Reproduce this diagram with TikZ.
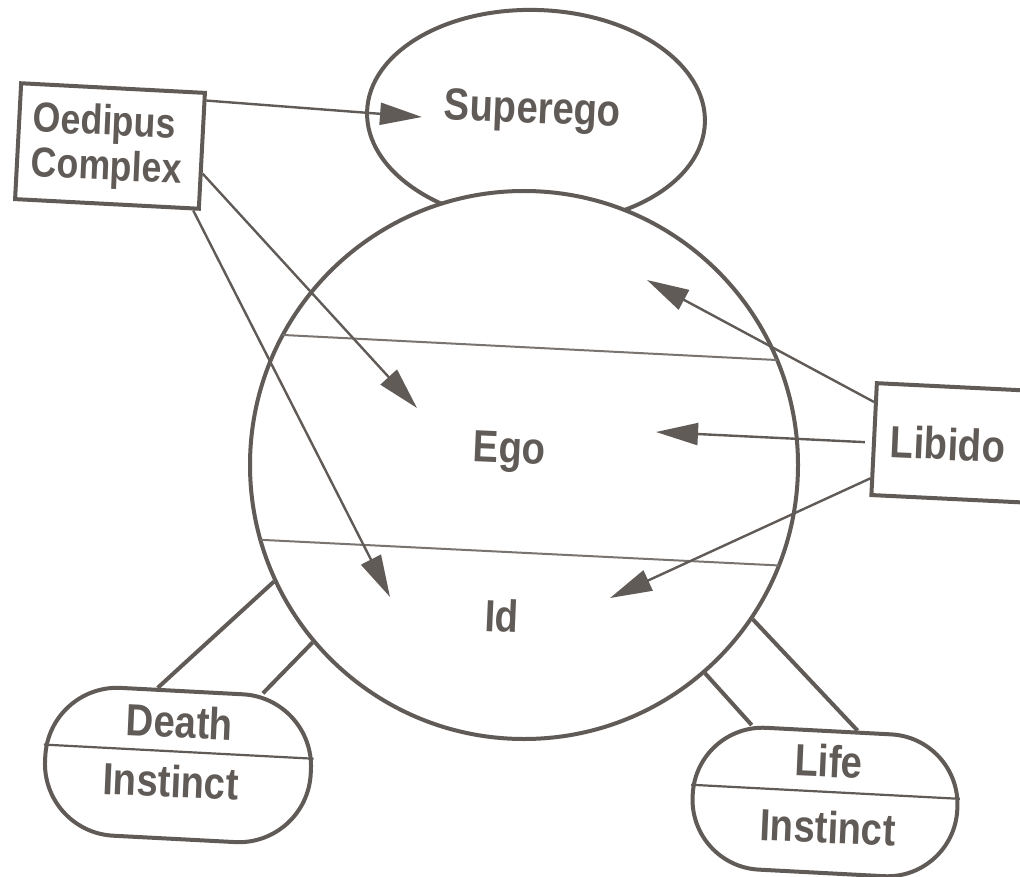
\documentclass[tikz,border=0pt]{standalone}
\usepackage{fontspec}
\setmainfont{Liberation Sans}[FakeStretch=0.85]
\usetikzlibrary{arrows.meta,calc,shapes.geometric}
\definecolor{ink}{HTML}{615B58}
\definecolor{inklight}{HTML}{7A7470}
\begin{document}
\begin{tikzpicture}[x=1pt,y=-1pt,
  outline/.style={draw=ink, line width=4pt, inner sep=0pt},
  lbl/.style={text=ink, font=\bfseries\fontsize{45}{50}\selectfont, rotate=-2.5, inner sep=0pt, anchor=base},
  smalllbl/.style={lbl, font=\bfseries\fontsize{42}{48}\selectfont},
  conn/.style={draw=ink, line width=2.4pt, -{Triangle[length=42pt,width=22pt]}},
  chord/.style={draw=inklight, line width=2pt},
  limb/.style={draw=ink, line width=4pt},
  divider/.style={draw=ink, line width=2.2pt}]
\useasboundingbox (0,0) rectangle (1020,877);
\clip (0,0) rectangle (1020,877);
\fill[white] (0,0) rectangle (1020,877);

% Superego ellipse (behind the psyche circle)
\node (sup) [ellipse, outline, minimum width=338pt, minimum height=214pt, rotate=-2] at (536,117) {};
% Psyche circle
\node (psy) [circle, outline, fill=white, minimum size=548pt] at (524,465) {};
% chords dividing Ego and Id
\begin{scope}
  \clip (524,465) circle (274);
  \draw[chord] (250,333.3) -- (800,361.2);
  \draw[chord] (240,538.8) -- (800,566.5);
\end{scope}

% boxes
\node (oed) [outline, rectangle, minimum width=184pt, minimum height=116pt, rotate=-3] at (110,146) {};
\node (lib) [outline, rectangle, minimum width=200pt, minimum height=112pt, rotate=-2.8] at (974,444) {};
\node (death) [outline, rectangle, rounded corners=72pt, minimum width=266pt, minimum height=148pt, rotate=-3] at (178,765) {};
\node (life) [outline, rectangle, rounded corners=70pt, minimum width=265pt, minimum height=142pt, rotate=-3] at (825,802) {};

% dividers
\draw[divider] ($(death.west)!0.176!(death.north west)$) -- ($(death.east)!0.176!(death.north east)$);
\draw[divider] ($(life.west)!0.14!(life.north west)$) -- ($(life.east)!0.14!(life.north east)$);

% limbs
\draw[limb] (psy.205.6) -- ($(death.north west)!0.41!(death.north east)$);
\draw[limb] (psy.220.9) -- ($(death.north west)!0.80!(death.north east)$);
\draw[limb] (psy.326.7) -- ($(life.north west)!0.607!(life.north east)$);
\draw[limb] (psy.311.2) -- ($(life.north west)!0.213!(life.north east)$);

% arrow tips
\coordinate (tsup) at (422,117);
\coordinate (tego1) at (417,408);
\coordinate (tid1) at (390,597);
\coordinate (tsup2) at (647,280);
\coordinate (tego2) at (656,432);
\coordinate (tid2) at (610,598);

\draw[conn] ($(oed.north east)!0.08!(oed.south east)$) -- (tsup);
\draw[conn] ($(oed.north east)!0.69!(oed.south east)$) -- (tego1);
\draw[conn] ($(oed.south east)!0.04!(oed.south west)$) -- (tid1);
\draw[conn] ($(lib.north west)!0.18!(lib.south west)$) -- (tsup2);
\draw[conn, shorten <=7pt] ($(lib.north west)!0.53!(lib.south west)$) -- (tego2);
\draw[conn] ($(lib.north west)!0.84!(lib.south west)$) -- (tid2);

% labels
\node (lsup) [lbl] at (532,123) {Superego};
\node (lego) [lbl] at (509,463) {Ego};
\node (lid) [lbl] at (501,632) {Id};
\node (llib) [lbl] at (947,460) {Libido};
\node (loed1) [smalllbl] at (104,135) {Oedipus};
\node (loed2) [smalllbl] at (106,180) {Complex};
\node (ldeath1) [lbl] at (179,738) {Death};
\node (ldeath2) [lbl] at (170,797) {Instinct};
\node (llife1) [lbl] at (828,777) {Life};
\node (llife2) [lbl] at (827,843) {Instinct};
\end{tikzpicture}
\end{document}
